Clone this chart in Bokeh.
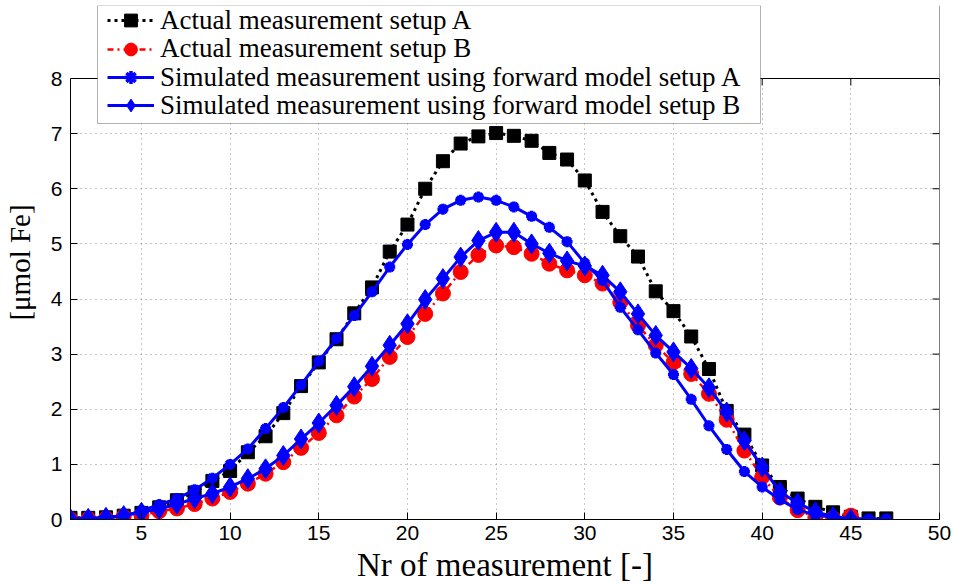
from bokeh.plotting import figure
from bokeh.models import (Range1d, Legend, LegendItem, FixedTicker,
                          BoxAnnotation, Span)
from bokeh.embed import file_html
from bokeh.resources import INLINE

# measurement index
nr_a = list(range(1, 48))
nr_b = list(range(1, 46))

# actual measurement, setup A  [umol Fe]
actual_a = [0.03, 0.03, 0.04, 0.07, 0.12, 0.22, 0.35, 0.49, 0.70, 0.88,
            1.22, 1.51, 1.93, 2.42, 2.85, 3.27, 3.74, 4.21, 4.86, 5.35,
            6.00, 6.50, 6.82, 6.95, 7.01, 6.96, 6.87, 6.65, 6.53, 6.15,
            5.58, 5.14, 4.77, 4.14, 3.78, 3.32, 2.73, 1.97, 1.54, 0.98,
            0.59, 0.38, 0.23, 0.13, 0.05, 0.02, 0.02]

# actual measurement, setup B
actual_b = [0.00, 0.01, 0.02, 0.05, 0.08, 0.15, 0.20, 0.28, 0.38, 0.50,
            0.65, 0.83, 1.04, 1.30, 1.57, 1.89, 2.23, 2.55, 2.95, 3.31,
            3.73, 4.10, 4.49, 4.80, 4.97, 4.94, 4.82, 4.64, 4.52, 4.43,
            4.28, 3.94, 3.52, 3.16, 2.85, 2.64, 2.28, 1.81, 1.25, 0.77,
            0.40, 0.17, 0.04, 0.02, 0.07]

# simulated measurement (forward model), setup A
sim_a = [0.01, 0.02, 0.03, 0.06, 0.16, 0.27, 0.38, 0.54, 0.75, 1.00,
         1.28, 1.65, 2.03, 2.44, 2.87, 3.28, 3.70, 4.13, 4.58, 4.99,
         5.35, 5.63, 5.79, 5.85, 5.79, 5.67, 5.50, 5.30, 5.04, 4.65,
         4.34, 3.85, 3.44, 3.02, 2.63, 2.18, 1.70, 1.27, 0.87, 0.59,
         0.36, 0.18, 0.08, 0.04, 0.02, 0.01, 0.01]

# simulated measurement (forward model), setup B
sim_b = [0.01, 0.02, 0.04, 0.07, 0.13, 0.19, 0.28, 0.38, 0.47, 0.59,
         0.74, 0.92, 1.16, 1.46, 1.75, 2.07, 2.41, 2.78, 3.16, 3.55,
         3.99, 4.37, 4.76, 5.06, 5.21, 5.21, 5.00, 4.83, 4.69, 4.60,
         4.43, 4.13, 3.73, 3.34, 3.04, 2.74, 2.39, 1.95, 1.43, 0.95,
         0.50, 0.30, 0.14, 0.05, 0.01]

x_ticks = [5, 10, 15, 20, 25, 30, 35, 40, 45, 50]
y_ticks = [0, 1, 2, 3, 4, 5, 6, 7, 8]
x_lo, x_hi = 1, 50
y_top = 8

label_legend = [
    "Actual measurement setup A",
    "Actual measurement setup B",
    "Simulated measurement using forward model setup A",
    "Simulated measurement using forward model setup B",
]

SERIF = "Liberation Serif"
SANS = "Liberation Sans"
BLUE = "#0000ff"
RED = "#ff0000"

# The frame reaches above the axes box so that the legend can overhang it;
# the axes box itself ends at y = 8.
FRAME_TOP, FRAME_BOTTOM = 5, 519
FRAME_LEFT, FRAME_RIGHT = 65, 939
BOX_TOP = 78
y_end = y_top * (FRAME_BOTTOM - FRAME_TOP) / (FRAME_BOTTOM - BOX_TOP)
TICK_PX = 7

p = figure(width=954, height=586, output_backend="svg", toolbar_location=None,
           x_range=Range1d(x_lo, x_hi), y_range=Range1d(0, y_end),
           min_border_left=FRAME_LEFT, min_border_right=954 - FRAME_RIGHT,
           min_border_top=FRAME_TOP, min_border_bottom=586 - FRAME_BOTTOM)
p.background_fill_color = "white"
p.border_fill_color = "white"
p.outline_line_color = None

for ax in (p.xaxis[0], p.yaxis[0]):
    ax.major_tick_in = TICK_PX
    ax.major_tick_out = 0
    ax.minor_tick_line_color = None
    ax.axis_line_color = "black"
    ax.major_tick_line_color = "black"
    ax.major_label_text_font = SANS
    ax.major_label_text_font_size = "21px"
    ax.major_label_text_color = "black"
    ax.axis_label_text_font = SERIF
    ax.axis_label_text_font_style = "normal"
    ax.axis_label_text_color = "black"

p.xaxis.ticker = FixedTicker(ticks=x_ticks)
p.yaxis.ticker = FixedTicker(ticks=y_ticks)
p.yaxis.bounds = (0, y_top)
p.xaxis.major_label_standoff = 6
p.yaxis.major_label_standoff = 8
p.xaxis.axis_label = "Nr of measurement [-]"
p.yaxis.axis_label = "[μmol Fe]"
p.xaxis.axis_label_text_font_size = "33px"
p.yaxis.axis_label_text_font_size = "29px"
p.xaxis.axis_label_standoff = 4
p.yaxis.axis_label_standoff = 12

# dotted grid
for g in (p.xgrid[0], p.ygrid[0]):
    g.grid_line_color = "#444444"
    g.grid_line_alpha = 0.6
    g.grid_line_dash = "1 4"
    g.grid_line_width = 1
p.xgrid.ticker = FixedTicker(ticks=x_ticks)
p.ygrid.ticker = FixedTicker(ticks=y_ticks)

# series
la = p.line(nr_a, actual_a, line_color="black", line_width=3, line_dash="3 4")
ma = p.scatter(nr_a, actual_a, marker="square", size=13, fill_color="black",
               line_color="black")

lb = p.line(nr_b, actual_b, line_color=RED, line_width=2.5, line_dash="6 4 2 4")
mb = p.scatter(nr_b, actual_b, marker="circle", size=15, fill_color=RED,
               line_color=RED)

lsa = p.line(nr_a, sim_a, line_color=BLUE, line_width=3)
msa = p.scatter(nr_a, sim_a, marker="asterisk", size=11, line_color=BLUE,
                line_width=3.5)

lsb = p.line(nr_b, sim_b, line_color=BLUE, line_width=3)
msb = p.scatter(nr_b, sim_b, marker="diamond", size=20, fill_color=BLUE,
                line_color=BLUE)

# right edge of the axes box with inward ticks
p.add_layout(Span(location=x_hi, dimension="height", line_color="black",
                  line_width=1))
tick_dx = TICK_PX * (x_hi - x_lo) / (FRAME_RIGHT - FRAME_LEFT)
p.segment(x0=[x_hi] * len(y_ticks), y0=y_ticks,
          x1=[x_hi - tick_dx] * len(y_ticks), y1=y_ticks,
          line_color="black", line_width=1)

# blank out everything above the axes box, then draw its top edge and ticks
p.add_layout(BoxAnnotation(bottom=y_top, fill_color="white", fill_alpha=1.0,
                           line_color=None))
p.add_layout(Span(location=y_top, dimension="width", line_color="black",
                  line_width=1))
tick_dy = TICK_PX * y_top / (FRAME_BOTTOM - BOX_TOP)
p.segment(x0=x_ticks, y0=[y_top] * len(x_ticks), x1=x_ticks,
          y1=[y_top - tick_dy] * len(x_ticks), line_color="black", line_width=1)

# legend: one framed box holding four tightly stacked rows
LEG_LEFT, LEG_RIGHT, LEG_TOP, LEG_BOTTOM = 97, 760, 5, 123
ROW_CENTERS = [20, 48.5, 77, 105]
ROW_H = 32
p.add_layout(BoxAnnotation(left=LEG_LEFT, right=LEG_RIGHT, top=LEG_TOP,
                           bottom=LEG_BOTTOM, left_units="canvas",
                           right_units="canvas", top_units="canvas",
                           bottom_units="canvas", fill_color="white",
                           fill_alpha=1.0, line_color="black", line_width=1))

row_renderers = [[la, ma], [lb, mb], [lsa, msa], [lsb, msb]]
for label, rends, cy in zip(label_legend, row_renderers, ROW_CENTERS):
    row = Legend(
        items=[LegendItem(label=label, renderers=rends)],
        location=(LEG_LEFT + 5 - FRAME_LEFT, FRAME_BOTTOM - (cy + ROW_H / 2)),
        label_text_font=SERIF,
        label_text_font_size="27px",
        label_text_color="black",
        label_height=ROW_H,
        glyph_height=ROW_H,
        glyph_width=47,
        label_standoff=6,
        spacing=0,
        padding=0,
        margin=0,
        border_line_color=None,
        background_fill_alpha=0.0,
    )
    p.add_layout(row, "center")

open("out.html", "w").write(file_html(p, INLINE))
